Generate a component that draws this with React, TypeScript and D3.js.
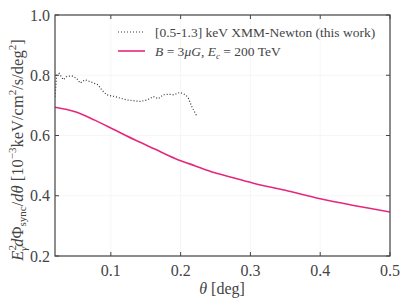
import React from "react";
import * as d3 from "d3";

const modelTheta = [0.02, 0.049, 0.077, 0.106, 0.135, 0.163, 0.192, 0.221, 0.249, 0.278, 0.307, 0.35, 0.4, 0.45, 0.5];
const modelFlux = [0.694, 0.679, 0.651, 0.618, 0.585, 0.555, 0.524, 0.499, 0.476, 0.458, 0.44, 0.418, 0.39, 0.367, 0.346];

const xmmTheta = [0.02, 0.0224, 0.026, 0.032, 0.037, 0.044, 0.051, 0.056, 0.063, 0.07, 0.082, 0.087, 0.094, 0.106, 0.123, 0.142, 0.152, 0.161, 0.168, 0.175, 0.183, 0.19, 0.199, 0.207, 0.211, 0.216, 0.223];
const xmmFlux = [0.729, 0.8, 0.806, 0.785, 0.796, 0.798, 0.79, 0.774, 0.785, 0.779, 0.768, 0.751, 0.735, 0.729, 0.718, 0.713, 0.718, 0.729, 0.722, 0.735, 0.737, 0.735, 0.743, 0.735, 0.724, 0.696, 0.665];

const xTicks = [0.1, 0.2, 0.3, 0.4, 0.5];
const yTicks = [0.2, 0.4, 0.6, 0.8, 1.0];

export default function App() {
  const W = 407, H = 305;
  const L = 55, R = 390, T = 15, B = 256;
  const x = d3.scaleLinear().domain([0.02, 0.5]).range([L, R]);
  const y = d3.scaleLinear().domain([0.2, 1.0]).range([B, T]);
  const line = d3.line<[number, number]>().x(d => x(d[0])).y(d => y(d[1])).curve(d3.curveCatmullRom);
  const modelPts = modelTheta.map((t, i) => [t, modelFlux[i]] as [number, number]);
  const xmmPts = xmmTheta.map((t, i) => [t, xmmFlux[i]] as [number, number]);
  const lin = d3.line<[number, number]>().x(d => x(d[0])).y(d => y(d[1]));
  const font = "'Liberation Serif', 'DejaVu Serif', serif";
  const txt = "#444";
  const ax = "#444";
  return (
    <svg width={W} height={H} style={{ position: "absolute", left: 0, top: 0 }} fontFamily={font}>
      <rect width={W} height={H} fill="#fff" />
      {xTicks.map(t => (
        <line key={"gx" + t} x1={x(t)} x2={x(t)} y1={T} y2={B} stroke="#f0f0f0" strokeWidth={0.6} />
      ))}
      {yTicks.map(t => (
        <line key={"gy" + t} x1={L} x2={R} y1={y(t)} y2={y(t)} stroke="#f0f0f0" strokeWidth={0.6} />
      ))}
      <defs>
        <clipPath id="clip"><rect x={L} y={T} width={R - L} height={B - T} /></clipPath>
      </defs>
      <g clipPath="url(#clip)">
        <path d={line(modelPts) || ""} fill="none" stroke="#e6287c" strokeWidth={1.6} />
        <path d={lin(xmmPts) || ""} fill="none" stroke="#333" strokeWidth={1.2} strokeDasharray="1,2" />
      </g>
      <rect x={L} y={T} width={R - L} height={B - T} fill="none" stroke={ax} strokeWidth={1.2} />
      {xTicks.map(t => (
        <g key={"tx" + t}>
          <line x1={x(t)} x2={x(t)} y1={B} y2={B - 4} stroke={ax} />
          <line x1={x(t)} x2={x(t)} y1={T} y2={T + 4} stroke={ax} />
          <text x={x(t)} y={276} textAnchor="middle" fontSize={16} fill={txt}>{t.toFixed(1)}</text>
        </g>
      ))}
      {yTicks.map(t => (
        <g key={"ty" + t}>
          <line x1={L} x2={L + 4} y1={y(t)} y2={y(t)} stroke={ax} />
          <line x1={R} x2={R - 4} y1={y(t)} y2={y(t)} stroke={ax} />
          <text x={50} y={y(t) + 5.5} textAnchor="end" fontSize={16} fill={txt}>{t.toFixed(1)}</text>
        </g>
      ))}
      <text x={222} y={294} textAnchor="middle" fontSize={16} fill={txt}>
        <tspan fontStyle="italic">θ</tspan> [deg]
      </text>
      <text transform="translate(23,150) rotate(-90)" textAnchor="middle" fontSize={16.5} fill={txt}>
        <tspan fontStyle="italic">E</tspan>
        <tspan fontSize={11} dy={-7}>2</tspan>
        <tspan fontSize={11} fontStyle="italic" dx={-6} dy={11}>γ</tspan>
        <tspan fontStyle="italic" dy={-4}>d</tspan>
        <tspan>Φ</tspan>
        <tspan fontSize={11} dy={3}>sync</tspan>
        <tspan dy={-3}>/</tspan>
        <tspan fontStyle="italic">dθ</tspan>
        <tspan> [10</tspan>
        <tspan fontSize={11} dy={-7}>−3</tspan>
        <tspan dy={7}>keV/cm</tspan>
        <tspan fontSize={11} dy={-7}>2</tspan>
        <tspan dy={7}>/s/deg</tspan>
        <tspan fontSize={11} dy={-7}>2</tspan>
        <tspan dy={7}>]</tspan>
      </text>
      <line x1={118} x2={145} y1={32} y2={32} stroke="#333" strokeWidth={1.2} strokeDasharray="1,2" />
      <text x={155} y={37} fontSize={13.5} fill={txt}>[0.5-1.3] keV XMM-Newton (this work)</text>
      <line x1={118} x2={145} y1={51} y2={51} stroke="#e6287c" strokeWidth={1.6} />
      <text x={155} y={56} fontSize={13.5} fill={txt}>
        <tspan fontStyle="italic">B</tspan> = 3<tspan fontStyle="italic">μG</tspan>, <tspan fontStyle="italic">E</tspan>
        <tspan fontSize={9} fontStyle="italic" dy={3}>c</tspan>
        <tspan dy={-3}> = 200 TeV</tspan>
      </text>
    </svg>
  );
}
